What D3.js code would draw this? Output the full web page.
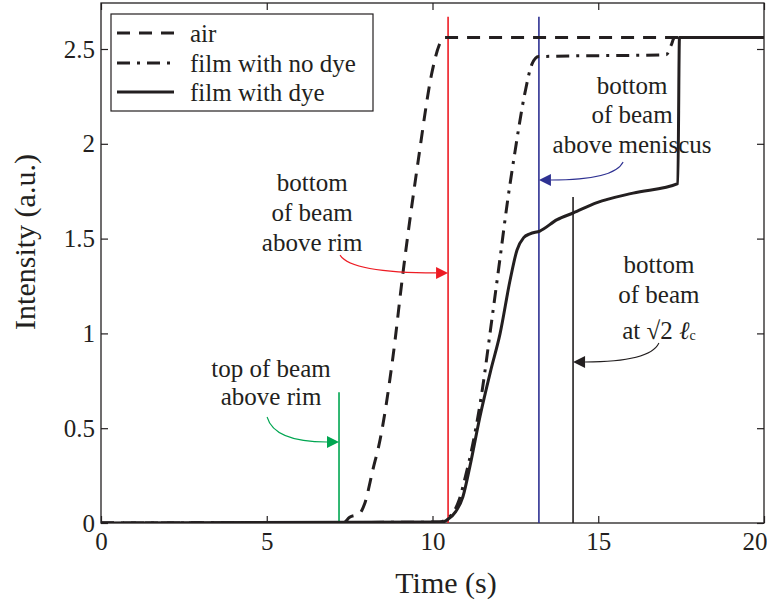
<!DOCTYPE html>
<html>
<head>
<meta charset="utf-8">
<script src="https://cdn.jsdelivr.net/npm/d3@7"></script>
<style>
  html, body { margin: 0; padding: 0; background: #fff; }
  svg { display: block; }
</style>
</head>
<body>
<svg id="chart" width="767" height="607"></svg>
<script>
// ---------- data ----------
const xTicks = [0, 5, 10, 15, 20];
const xTickLabels = ["0", "5", "10", "15", "20"];
const yTicks = [0, 0.5, 1, 1.5, 2, 2.5];
const yTickLabels = ["0", "0.5", "1", "1.5", "2", "2.5"];

const seriesNames = ["air", "film with no dye", "film with dye"];

const airTime = [0, 7.3, 7.5, 7.8, 7.95, 8.2, 8.42, 8.81, 9.11, 9.56, 10.0, 10.2, 10.35, 20];
const airValue = [0, 0, 0.03, 0.05, 0.1, 0.28, 0.44, 0.88, 1.32, 1.9, 2.39, 2.52, 2.56, 2.56];

const noDyeTime = [0, 10.2, 10.5, 10.8, 11.0, 11.22, 11.5, 11.75, 12.04, 12.25, 12.49, 12.79, 13.0, 13.2, 17.05, 17.2, 17.3, 20];
const noDyeValue = [0, 0.005, 0.03, 0.12, 0.25, 0.42, 0.70, 1.02, 1.40, 1.68, 1.96, 2.27, 2.42, 2.46, 2.47, 2.52, 2.56, 2.56];

const dyeTime = [0, 10.3, 10.43, 10.7, 10.92, 11.13, 11.43, 11.75, 12.04, 12.34, 12.55, 12.75, 12.94, 13.24, 13.76, 14.24, 14.96, 16.05, 17.4, 17.45, 20];
const dyeValue = [0, 0.005, 0.015, 0.06, 0.14, 0.30, 0.56, 0.80, 1.0, 1.28, 1.44, 1.505, 1.525, 1.54, 1.60, 1.635, 1.69, 1.74, 1.79, 2.56, 2.56];

// vertical marker lines (time, top value)
const markerTime = [7.18, 10.47, 13.21, 14.24];
const markerTop = [0.69, 2.67, 2.67, 1.72];
const markerColor = ["#00a651", "#ed1c24", "#2e3192", "#231f20"];

// annotations
const annoLines = [
  ["top of beam", "above rim"],
  ["bottom", "of beam", "above rim"],
  ["bottom", "of beam", "above meniscus"],
  ["bottom", "of beam", "at √2 ℓc"]
];
const annoX = [5.13, 6.37, 16.02, 16.83];
const annoY = [
  [0.8175, 0.665],
  [1.798, 1.640, 1.482],
  [2.310, 2.152, 1.994],
  [1.361, 1.203, 1.018]
];
const arrowStart = [[5.01, 0.559], [7.21, 1.413], [15.75, 1.904], [16.83, 0.949]];
const arrowTipY = [0.427, 1.319, 1.809, 0.849];

// ---------- layout ----------
const FONT = "'Liberation Serif', serif";
const svg = d3.select("#chart");
const mLeft = 101, mRight = 764, mTop = 3, mBottom = 523;
const x = d3.scaleLinear().domain([0, 20]).range([mLeft, mRight]);
const y = d3.scaleLinear().domain([0, 2.5]).range([mBottom, 49]);

const ink = "#231f20";

// clip
svg.append("defs").append("clipPath").attr("id", "clip")
  .append("rect").attr("x", mLeft).attr("y", mTop).attr("width", mRight - mLeft).attr("height", mBottom - mTop);

// box
svg.append("rect").attr("x", mLeft).attr("y", mTop).attr("width", mRight - mLeft).attr("height", mBottom - mTop)
  .attr("fill", "none").attr("stroke", ink).attr("stroke-width", 1.3);

// axes
const tickLen = 7;
const gB = svg.append("g").attr("transform", `translate(0,${mBottom})`)
  .call(d3.axisBottom(x).tickValues(xTicks).tickFormat((d, i) => xTickLabels[i]).tickSizeInner(-tickLen).tickSizeOuter(0).tickPadding(9));
const gL = svg.append("g").attr("transform", `translate(${mLeft},0)`)
  .call(d3.axisLeft(y).tickValues(yTicks).tickFormat((d, i) => yTickLabels[i]).tickSizeInner(-tickLen).tickSizeOuter(0).tickPadding(6));
const gT = svg.append("g").attr("transform", `translate(0,${mTop})`)
  .call(d3.axisTop(x).tickValues(xTicks).tickFormat("").tickSizeInner(-tickLen).tickSizeOuter(0));
const gR = svg.append("g").attr("transform", `translate(${mRight},0)`)
  .call(d3.axisRight(y).tickValues(yTicks).tickFormat("").tickSizeInner(-tickLen).tickSizeOuter(0));
[gB, gL, gT, gR].forEach(g => {
  g.attr("font-family", null);
  g.select(".domain").remove();
  g.selectAll("line").attr("stroke", ink).attr("stroke-width", 1.2);
  g.selectAll("text").style("font-family", FONT).attr("font-size", 25).attr("fill", ink);
});
gB.selectAll("text").attr("dy", "0.71em");
// last x label kept inside the picture
gB.selectAll(".tick").filter(d => d === xTicks[xTicks.length - 1]).select("text")
  .attr("text-anchor", "end").attr("x", 767 - mRight);

// axis labels
svg.append("text").attr("x", 446).attr("y", 593).attr("text-anchor", "middle")
  .style("font-family", FONT).attr("fill", ink).attr("font-size", 30).text("Time (s)");
svg.append("text").attr("transform", "translate(35,242) rotate(-90)").attr("text-anchor", "middle")
  .style("font-family", FONT).attr("fill", ink).attr("font-size", 30).text("Intensity (a.u.)");

// markers
const plot = svg.append("g").attr("clip-path", "url(#clip)");
markerTime.forEach((t, i) => {
  plot.append("line").attr("x1", x(t)).attr("x2", x(t)).attr("y1", y(0)).attr("y2", y(markerTop[i]))
    .attr("stroke", markerColor[i]).attr("stroke-width", 1.6);
});

// curves
const line = d3.line().x(d => x(d[0])).y(d => y(d[1])).curve(d3.curveMonotoneX);
const series = [
  { t: airTime, v: airValue, dash: "13,9" },
  { t: noDyeTime, v: noDyeValue, dash: "13,7,3,7" },
  { t: dyeTime, v: dyeValue, dash: null }
];
series.forEach(s => {
  const pts = s.t.map((t, i) => [t, s.v[i]]);
  const p = plot.append("path").attr("d", line(pts)).attr("fill", "none")
    .attr("stroke", ink).attr("stroke-width", 3).attr("stroke-linejoin", "round");
  if (s.dash) p.attr("stroke-dasharray", s.dash);
});

// annotations
annoLines.forEach((lines, i) => {
  const g = svg.append("g");
  lines.forEach((txt, j) => {
    const tEl = g.append("text").attr("x", x(annoX[i])).attr("y", y(annoY[i][j]))
      .attr("text-anchor", "middle").attr("dominant-baseline", "central")
      .style("font-family", FONT).attr("fill", ink).attr("font-size", 25);
    if (txt.indexOf("ℓc") >= 0) {
      tEl.append("tspan").text("at √2 ");
      tEl.append("tspan").attr("font-style", "italic").text("ℓ");
      tEl.append("tspan").attr("font-size", 14).attr("dy", 5).text("c");
    } else {
      tEl.text(txt);
    }
  });
  // arrow
  const sx = x(arrowStart[i][0]), sy = y(arrowStart[i][1]);
  const tx = x(markerTime[i]), ty = y(arrowTipY[i]);
  const dir = Math.sign(tx - sx);
  const headL = 12, headW = 6;
  const bx = tx - dir * headL;
  const cx = sx + (bx - sx) * 0.12;
  g.append("path").attr("d", `M${sx},${sy} Q${cx},${ty} ${bx},${ty}`)
    .attr("fill", "none").attr("stroke", markerColor[i]).attr("stroke-width", 1.1);
  g.append("path").attr("d", `M${tx},${ty} L${bx},${ty - headW} L${bx},${ty + headW} Z`)
    .attr("fill", markerColor[i]);
});

// legend
const lg = svg.append("g");
lg.append("rect").attr("x", 111).attr("y", 14).attr("width", 262).attr("height", 97)
  .attr("fill", "#fff").attr("stroke", ink).attr("stroke-width", 1.2);
const legendY = [33, 63, 92];
seriesNames.forEach((name, i) => {
  const l = lg.append("line").attr("x1", 117).attr("x2", 174).attr("y1", legendY[i]).attr("y2", legendY[i])
    .attr("stroke", ink).attr("stroke-width", 3);
  if (series[i].dash) l.attr("stroke-dasharray", series[i].dash);
  lg.append("text").attr("x", 190).attr("y", legendY[i]).attr("dominant-baseline", "central")
    .style("font-family", FONT).attr("fill", ink).attr("font-size", 25).text(name);
});
</script>
</body>
</html>
